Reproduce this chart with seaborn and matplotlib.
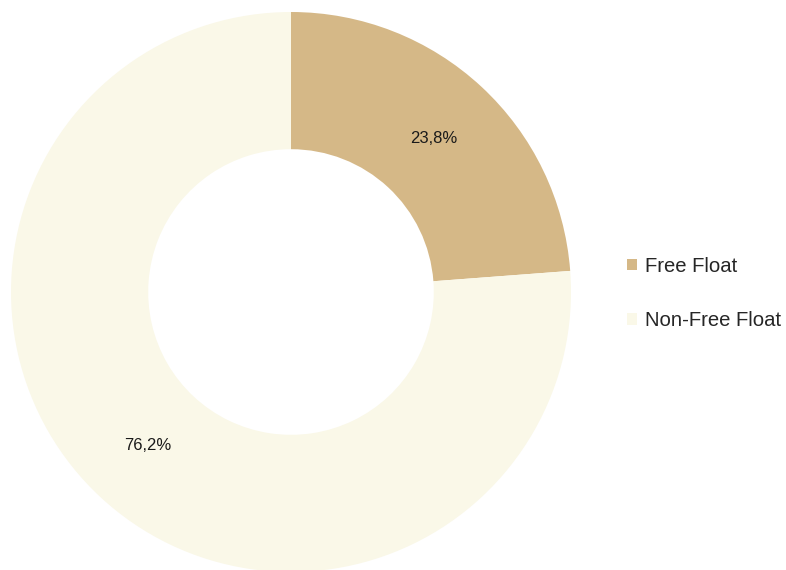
import matplotlib.pyplot as plt
import seaborn as sns
from matplotlib.patches import Patch

labels = ["Free Float", "Non-Free Float"]
shares = [23.8, 76.2]
colors = ["#D5B887", "#FAF8E8"]

sns.set_theme(style="white")
plt.rcParams["font.family"] = ["Liberation Sans", "DejaVu Sans"]

fig = plt.figure(figsize=(7.86, 5.70), dpi=100)
ax = fig.add_axes([11 / 786, -2 / 570, 560 / 786, 560 / 570])

wedges, texts, autotexts = ax.pie(
    shares,
    colors=colors,
    startangle=90,
    counterclock=False,
    radius=1.0,
    autopct=lambda p: f"{p:.1f}%".replace(".", ","),
    pctdistance=0.75,
    wedgeprops=dict(width=0.49, edgecolor="none"),
    textprops=dict(fontsize=12, color="#1a1a1a"),
)
ax.set_xlim(-1, 1)
ax.set_ylim(-1, 1)
ax.set_aspect("equal")
ax.axis("off")

handles = [Patch(facecolor=c, edgecolor="none") for c in colors]
fig.legend(
    handles,
    labels,
    loc="center left",
    bbox_to_anchor=(627 / 786, 0.485),
    frameon=False,
    fontsize=14.6,
    handlelength=0.5,
    handleheight=0.5,
    handletextpad=0.4,
    labelspacing=1.75,
    borderpad=0,
    borderaxespad=0,
)

fig.savefig("out.png", dpi=100)
